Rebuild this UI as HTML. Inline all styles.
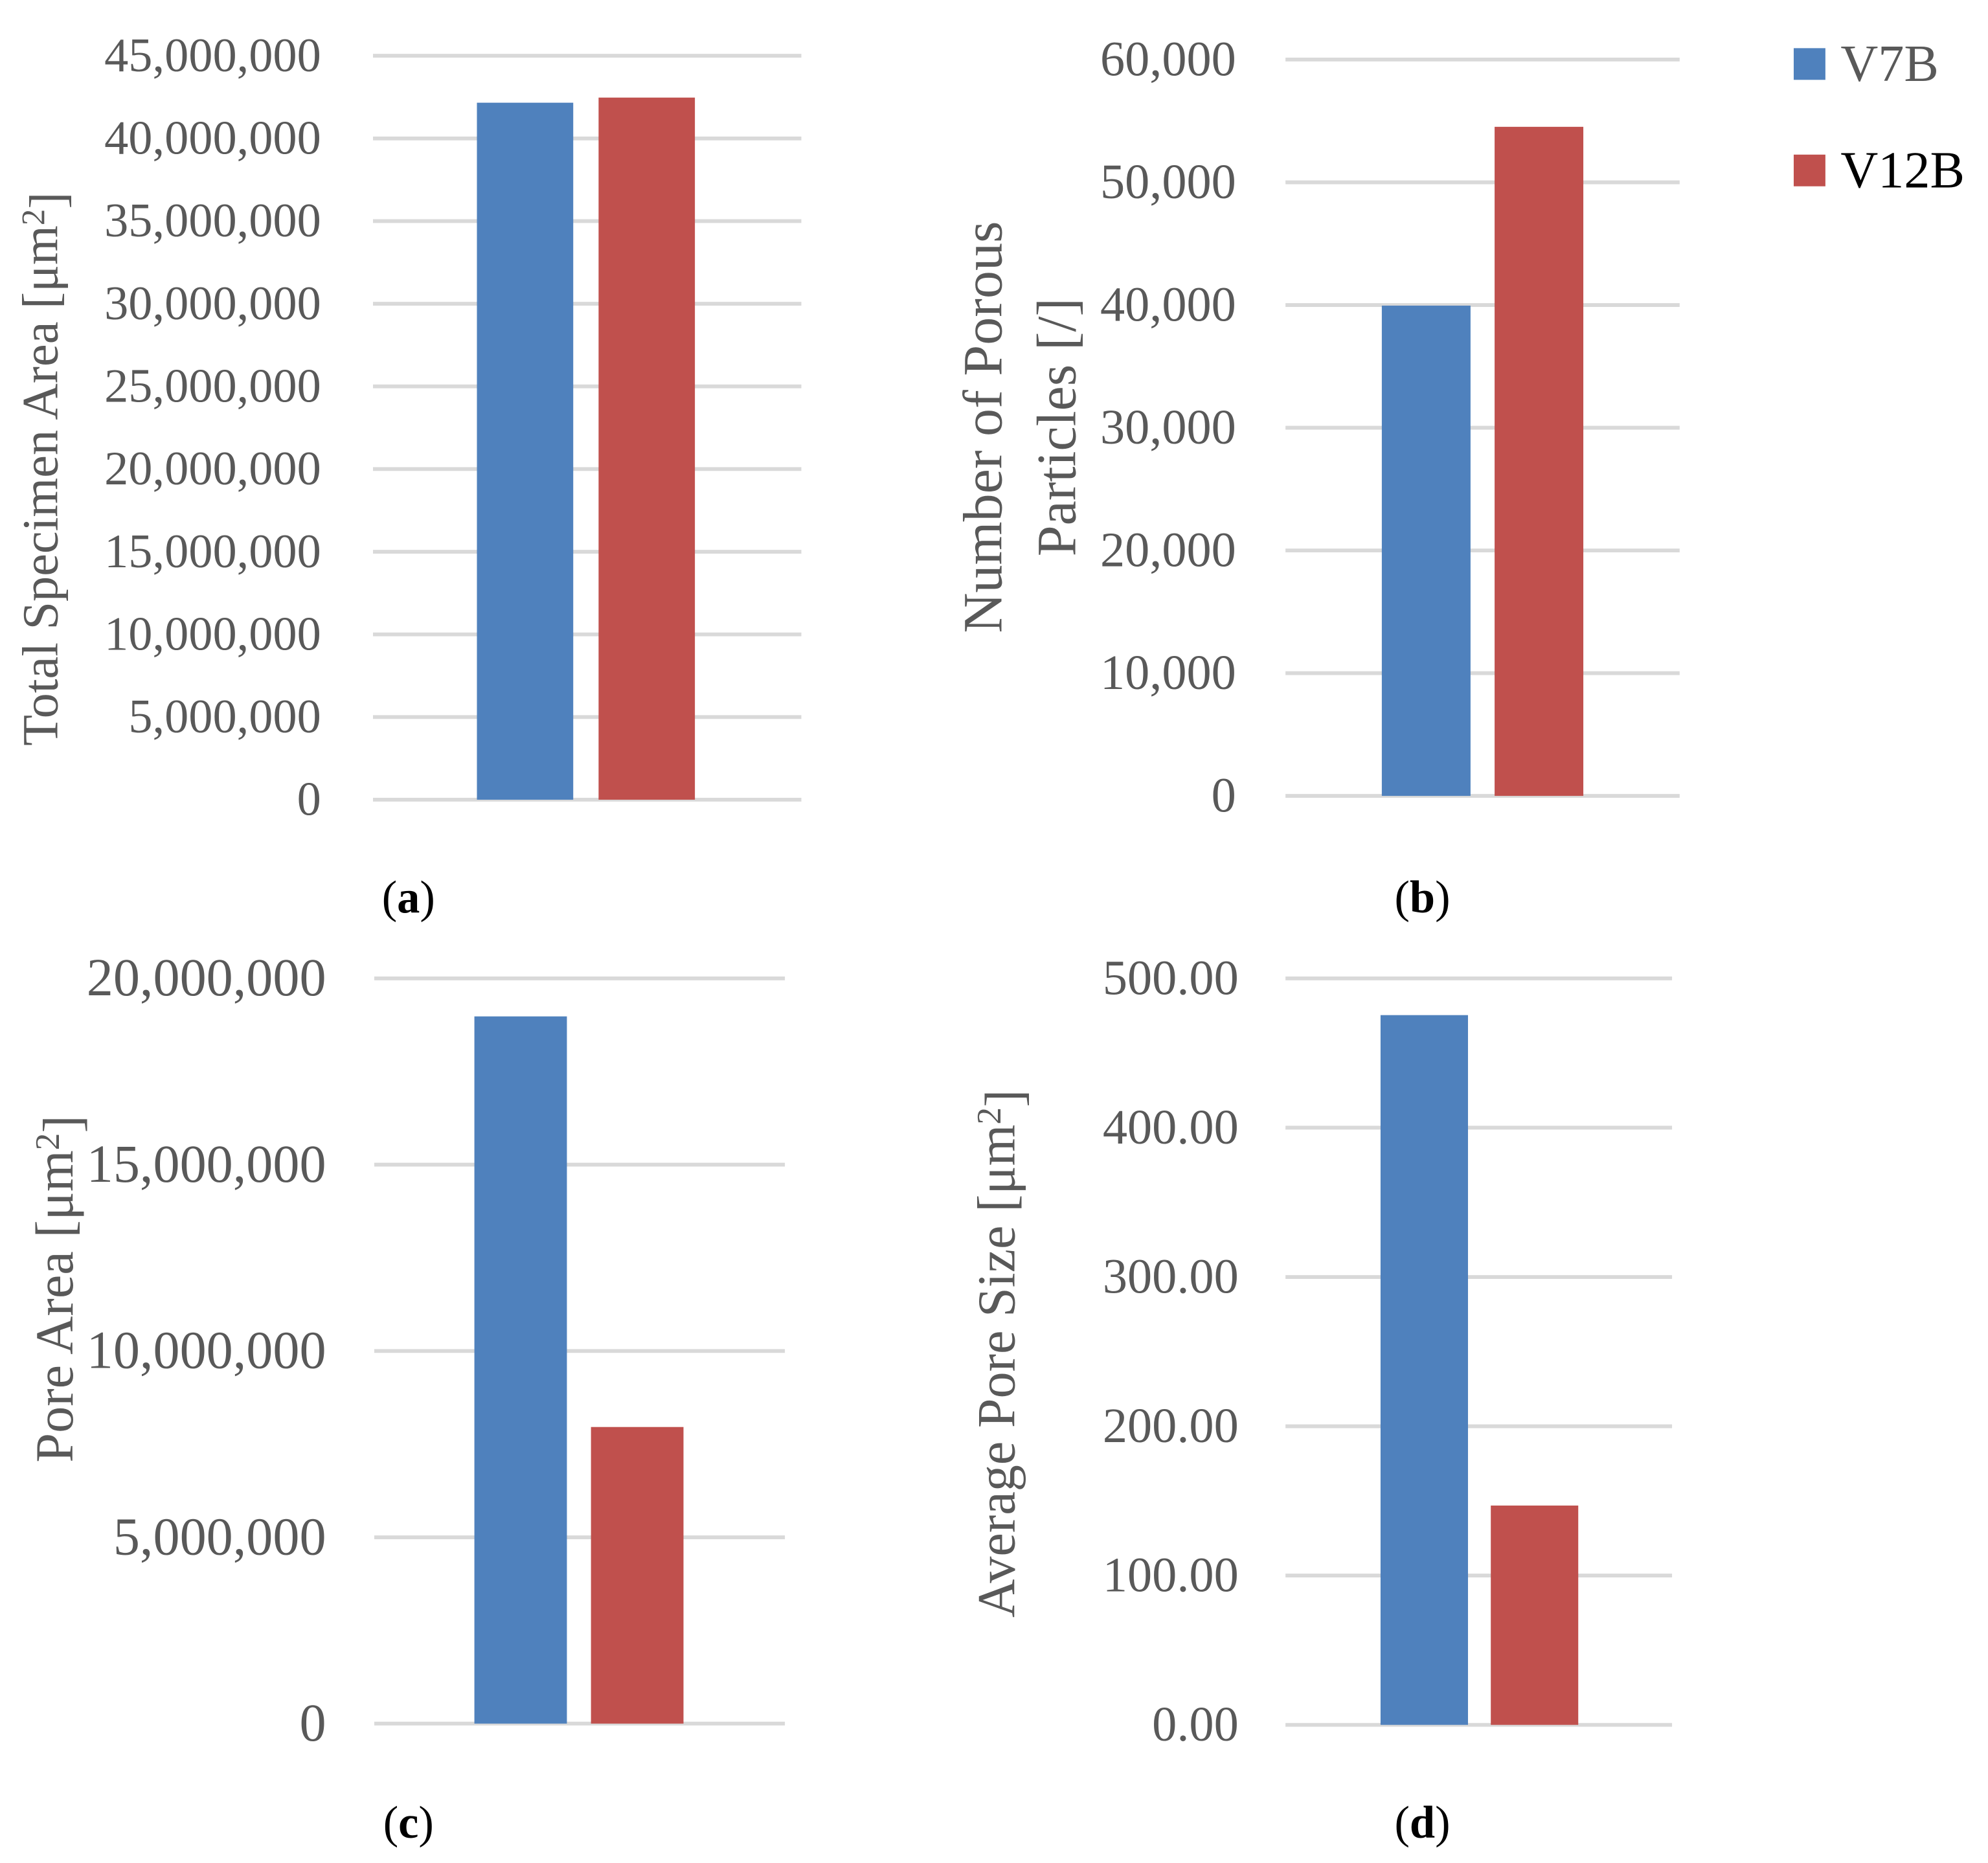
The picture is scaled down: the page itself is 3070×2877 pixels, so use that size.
<!DOCTYPE html>
<html><head><meta charset="utf-8"><style>
html,body{margin:0;padding:0;background:#fff;}
svg{display:block;}
text{font-family:"Liberation Serif",serif;}
</style></head><body>
<svg id="fig" width="3070" height="2877" viewBox="0 0 1568 1470" xmlns="http://www.w3.org/2000/svg">
<g>
<rect x="1415" y="38" width="25" height="25" fill="#4f81bd"/>
<text x="1452" y="64" font-size="41" fill="#595959">V7B</text>
<rect x="1415" y="122" width="25" height="25" fill="#c0504d"/>
<text x="1452" y="148" font-size="41" fill="#000">V12B</text>
</g>
</svg>
<script>
const series = ["V7B","V12B"];
const colors = ["#4f81bd","#c0504d"];
const aValues = [42160000, 42470000];
const aTicks = [0,5000000,10000000,15000000,20000000,25000000,30000000,35000000,40000000,45000000];
const aTickLabels = ["0","5,000,000","10,000,000","15,000,000","20,000,000","25,000,000","30,000,000","35,000,000","40,000,000","45,000,000"];
const bValues = [39950, 54520];
const bTicks = [0,10000,20000,30000,40000,50000,60000];
const bTickLabels = ["0","10,000","20,000","30,000","40,000","50,000","60,000"];
const cValues = [18980000, 7960000];
const cTicks = [0,5000000,10000000,15000000,20000000];
const cTickLabels = ["0","5,000,000","10,000,000","15,000,000","20,000,000"];
const dValues = [475.4, 146.9];
const dTicks = [0,100,200,300,400,500];
const dTickLabels = ["0.00","100.00","200.00","300.00","400.00","500.00"];

const NS = "http://www.w3.org/2000/svg";
const svg = document.getElementById("fig");
function mk(tag, attrs, parent){
  const e = document.createElementNS(NS, tag);
  for (const k in attrs) e.setAttribute(k, attrs[k]);
  parent.appendChild(e);
  return e;
}
function chart(cfg){
  const g = mk("g", {}, svg);
  
  
  const max = cfg.ticks[cfg.ticks.length-1];
  const y = v => cfg.y0 - (v / max) * (cfg.y0 - cfg.yTop);
  cfg.ticks.forEach((t,i)=>{
    const ln = mk("line", {x1:cfg.gx0, x2:cfg.gx1, y1:y(t), y2:y(t), stroke:"#d9d9d9", "stroke-width":3}, g);
    
    
    const tx = mk("text", {x:cfg.tickX, y:y(t)+cfg.fs*0.32, "text-anchor":"end", "font-size":cfg.fs, fill:"#595959"}, g);
    tx.textContent = cfg.labels[i];
    
    
  });
  cfg.values.forEach((v,i)=>{
    const r = mk("rect", {x:cfg.barX[i], width:cfg.barW, y:y(v), height:cfg.y0 - y(v), fill:colors[i]}, g);
    
    
  });
  cfg.title.forEach((line,i)=>{
    const tx = mk("text", {x:0, y:0, "text-anchor":"middle", "font-size":cfg.tfs, fill:"#595959",
      transform:`translate(${cfg.titleX + i*cfg.titleGap},${cfg.titleY}) rotate(-90)`}, g);
    tx.innerHTML = line;
    
    
  });
  const pl = mk("text", {x:cfg.panelX, y:cfg.panelY, "text-anchor":"middle", "font-size":36, fill:"#000"}, g);
  pl.innerHTML = '(<tspan font-weight="bold">' + cfg.panel + '</tspan>)';
  
  
}
const sup = 'μm<tspan font-size="0.65em" dy="-0.4em">2</tspan><tspan dy="0.4em">]</tspan>';
chart({name:"chart-total-specimen-area", values:aValues, ticks:aTicks, labels:aTickLabels,
  gx0:294, gx1:632, y0:631, yTop:44, tickX:253, fs:38, barX:[376,472], barW:76,
  title:['Total Specimen Area [' + sup], tfs:40, titleX:45, titleY:370, titleGap:0, panel:"a", panelX:322, panelY:720});
chart({name:"chart-porous-particles", values:bValues, ticks:bTicks, labels:bTickLabels,
  gx0:1014, gx1:1325, y0:628, yTop:47, tickX:975, fs:39, barX:[1090,1179], barW:70,
  title:['Number of Porous','Particles [/]'], tfs:44, titleX:790, titleY:337, titleGap:58, panel:"b", panelX:1122, panelY:720});
chart({name:"chart-pore-area", values:cValues, ticks:cTicks, labels:cTickLabels,
  gx0:295, gx1:619, y0:1360, yTop:772, tickX:257, fs:42, barX:[374,466], barW:73,
  title:['Pore Area [' + sup], tfs:42, titleX:57, titleY:1017, titleGap:0, panel:"c", panelX:322, panelY:1450});
chart({name:"chart-average-pore-size", values:dValues, ticks:dTicks, labels:dTickLabels,
  gx0:1014, gx1:1319, y0:1361, yTop:772, tickX:977, fs:39, barX:[1089,1176], barW:69,
  title:['Average Pore Size [' + sup], tfs:42, titleX:800, titleY:1068, titleGap:0, panel:"d", panelX:1122, panelY:1450});
</script>
</body></html>
